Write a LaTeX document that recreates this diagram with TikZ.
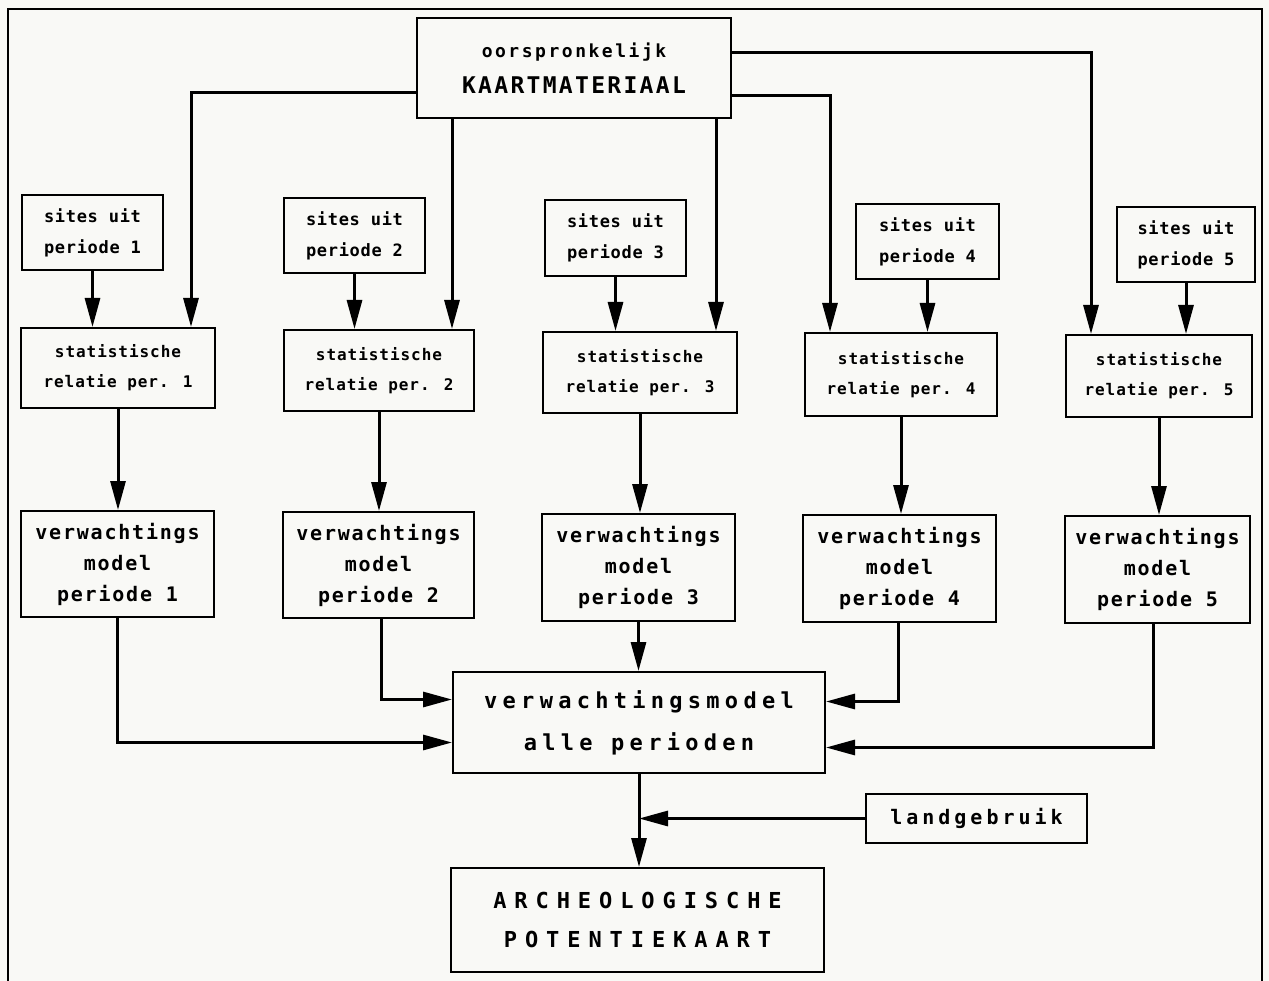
\documentclass[tikz,border=0pt]{standalone}
\usepackage{fontspec}
\usetikzlibrary{arrows.meta,calc}
\newfontfamily\pf{DejaVu Sans Mono}
\definecolor{paper}{RGB}{249,249,246}
\tikzset{
  bx/.style={draw, line width=2pt, inner sep=0pt, align=center},
  arr/.style={line width=3pt, -{Triangle[length=29pt,width=15pt]}},
  sitesfont/.style={font=\pf\bfseries\fontsize{17}{31}\selectfont\addfontfeature{LetterSpace=4}},
  statfont/.style={font=\pf\bfseries\fontsize{16}{30}\selectfont\addfontfeature{LetterSpace=6}},
  verwfont/.style={font=\pf\bfseries\fontsize{20}{31}\selectfont\addfontfeature{LetterSpace=9}},
  allfont/.style={font=\pf\bfseries\fontsize{22}{42}\selectfont\addfontfeature{LetterSpace=24}},
  landfont/.style={font=\pf\bfseries\fontsize{20}{24}\selectfont\addfontfeature{LetterSpace=20}},
  archfont/.style={font=\pf\bfseries\fontsize{22}{39}\selectfont\addfontfeature{LetterSpace=36}},
}
\newcommand{\toplow}{\pf\bfseries\fontsize{18}{36}\selectfont\addfontfeature{LetterSpace=14}}
\newcommand{\topcap}{\pf\bfseries\fontsize{23}{36}\selectfont\addfontfeature{LetterSpace=10}}
\begin{document}
\begin{tikzpicture}[x=1pt,y=-1pt]
\fill[paper] (0,0) rectangle (1269,981);
\useasboundingbox (0,0) rectangle (1269,981);
\draw[line width=2.5pt] (8,981) -- (8,9) -- (1262,9) -- (1262,981);

% top box
\node[bx, minimum width=314pt, minimum height=100pt] (top) at (574,68)
  {{\toplow oorspronkelijk}\\[14pt]{\topcap KAARTMATERIAAL}};

% sites boxes
\node[bx, sitesfont, minimum width=141pt, minimum height=75pt] (s1) at (92.5,232.5) {sites uit\\periode 1};
\node[bx, sitesfont, minimum width=141pt, minimum height=75pt] (s2) at (354.5,235.5) {sites uit\\periode 2};
\node[bx, sitesfont, minimum width=141pt, minimum height=76pt] (s3) at (615.5,238) {sites uit\\periode 3};
\node[bx, sitesfont, minimum width=143pt, minimum height=75pt] (s4) at (927.5,241.5) {sites uit\\periode 4};
\node[bx, sitesfont, minimum width=138pt, minimum height=75pt] (s5) at (1186,244.5) {sites uit\\periode 5};

% statistische boxes
\node[bx, statfont, minimum width=194pt, minimum height=80pt] (r1) at (118,368) {statistische\\relatie per. 1};
\node[bx, statfont, minimum width=190pt, minimum height=81pt] (r2) at (379,370.5) {statistische\\relatie per. 2};
\node[bx, statfont, minimum width=194pt, minimum height=81pt] (r3) at (640,372.5) {statistische\\relatie per. 3};
\node[bx, statfont, minimum width=192pt, minimum height=83pt] (r4) at (901,374.5) {statistische\\relatie per. 4};
\node[bx, statfont, minimum width=186pt, minimum height=82pt] (r5) at (1159,376) {statistische\\relatie per. 5};

% verwachtingsmodel boxes
\node[bx, verwfont, minimum width=193pt, minimum height=106pt] (v1) at (117.5,564) {verwachtings\\model\\periode 1};
\node[bx, verwfont, minimum width=191pt, minimum height=106pt] (v2) at (378.5,565) {verwachtings\\model\\periode 2};
\node[bx, verwfont, minimum width=193pt, minimum height=107pt] (v3) at (638.5,567.5) {verwachtings\\model\\periode 3};
\node[bx, verwfont, minimum width=193pt, minimum height=107pt] (v4) at (899.5,568.5) {verwachtings\\model\\periode 4};
\node[bx, verwfont, minimum width=185pt, minimum height=107pt] (v5) at (1157.5,569.5) {verwachtings\\model\\periode 5};

% central, land use, result
\node[bx, allfont, minimum width=372pt, minimum height=101pt] (all) at (639,722.5) {verwachtingsmodel\\alle perioden};
\node[bx, landfont, minimum width=221pt, minimum height=49pt] (land) at (976.5,818.5) {landgebruik};
\node[bx, archfont, minimum width=373pt, minimum height=104pt] (arch) at (637.5,920) {ARCHEOLOGISCHE\\POTENTIEKAART};

% connectors from top box
\draw[arr] ([yshift=-25pt]top.west) -| ([xshift=73pt]r1.north);
\draw[arr] ([xshift=-122pt]top.south) -- ([xshift=-122pt]top.south |- r2.north);
\draw[arr] ([xshift=142pt]top.south) -- ([xshift=142pt]top.south |- r3.north);
\draw[arr] ([yshift=-28pt]top.east) -| ([xshift=-71pt]r4.north);
\draw[arr] ([yshift=15pt]top.east) -| ([xshift=-68pt]r5.north);

% sites -> statistische -> verwachtingsmodel
\foreach \i in {1,...,5} {
  \draw[arr] (s\i.south) -- (s\i.south |- r\i.north);
  \draw[arr] (r\i.south) -- (r\i.south |- v\i.north);
}

% verwachtingsmodel -> central
\draw[arr] (v1.south) |- ([yshift=-20pt]all.west);
\draw[arr] ([xshift=3pt]v2.south) |- ([yshift=23pt]all.west);
\draw[arr] (v3.south) -- (v3.south |- all.north);
\draw[arr] ([xshift=-1pt]v4.south) |- ([yshift=21pt]all.east);
\draw[arr] ([xshift=-4pt]v5.south) |- ([yshift=-25pt]all.east);

% central -> result, land use
\draw[arr] (all.south) -- (all.south |- arch.north);
\draw[arr] (land.west) -- (land.west -| all.south);
\end{tikzpicture}
\end{document}
